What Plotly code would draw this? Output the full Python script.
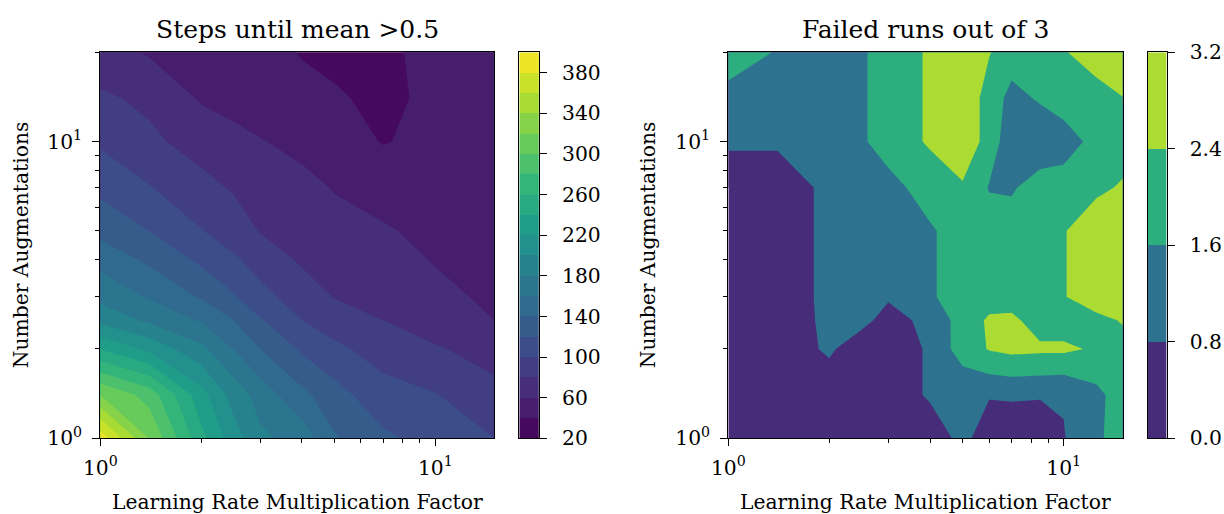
import math
import plotly.graph_objects as go
from plotly.colors import sample_colorscale

# ---------------- data ----------------
# Left panel: steps until mean > 0.5
lr_steps = [1, 1.4, 2, 2.5, 3, 4, 5, 7, 10, 15]
aug_steps = [1, 1.4, 2, 2.5, 3, 4, 5, 7, 10, 14, 20]
steps_until = [
    [392, 319, 246, 209, 184, 171, 142, 124, 112, 100],   # aug 1
    [320, 292, 228, 192, 172, 145, 128, 107, 101, 86],    # aug 1.4
    [239, 215, 185, 160, 140, 117, 104, 92, 82, 72],      # aug 2
    [194, 176, 158, 140, 122, 100, 91, 80, 70, 60],       # aug 2.5
    [174, 158, 138, 122, 106, 91, 79, 71, 64, 57],        # aug 3
    [153, 136, 116, 103, 92, 77, 71, 66, 59, 54],         # aug 4
    [134, 120, 101, 90, 79, 71, 66, 62, 55, 52],          # aug 5
    [115, 101, 86, 78, 72, 65, 59, 52, 48, 50],           # aug 7
    [97, 84, 72, 66, 61, 55, 49, 39, 45, 48],             # aug 10
    [83, 76, 58, 53, 50, 45, 42, 36, 44, 47],             # aug 14
    [68, 58, 52, 49, 46, 39, 36, 36, 46, 46],             # aug 20
]
steps_levels = list(range(20, 401, 20))
steps_ticks = list(range(20, 381, 40))

# Right panel: failed runs out of 3
lr_failed = [1, 1.4, 2, 2.5, 3, 4, 5, 6, 7, 8.5, 10, 12.5, 15]
aug_failed = [1, 1.4, 2, 2.5, 3, 4, 5, 7, 10, 14, 20]
failed_runs = [
    [0, 0, 0, 0, 0, 0, 1.2, 0, 0, 0, 0.76, 1.44, 2],                 # aug 1
    [0, 0, 0, 0, 0, 0.98, 1, 0.9, 0.95, 0.9, 0.85, 1.38, 2],         # aug 1.4
    [0, 0, 1.0, 0, 0, 0.98, 1.96, 2.45, 2.6, 2.55, 2.55, 2.3, 2],    # aug 2
    [0, 0, 1.1, 1.19, 0.3, 1.18, 1.85, 2.54, 2.59, 2, 2, 2.1, 2.48], # aug 2.5
    [0, 0, 1.14, 1, 0.95, 1.5, 2, 2, 2, 2, 2.34, 3, 3],              # aug 3
    [0, 0, 1.14, 1, 1, 1.5, 2, 2, 2, 2, 2.34, 3, 3],                 # aug 4
    [0, 0, 1.14, 1, 1, 1.5, 2, 2, 2, 2, 2.34, 3, 3],                 # aug 5
    [0, 0, 1.14, 1.2, 1.3, 2, 2.3, 1.55, 1.5, 2, 2, 2.2, 2.5],       # aug 7
    [1, 1, 1, 1.49, 2, 2.49, 3, 2.06, 1.08, 1, 1.2, 1.86, 2],        # aug 10
    [1.35, 1.2, 1, 1.49, 2, 2.49, 3, 2.06, 1.35, 1.69, 2, 1.9, 2.38],# aug 14
    [2, 1.55, 1, 1.49, 2, 2.49, 3, 2.44, 2, 2, 2.31, 3, 3],          # aug 20
]
failed_levels = [0.0, 0.8, 1.6, 2.4, 3.2]
failed_ticks = ["0.0", "0.8", "1.6", "2.4", "3.2"]

x_ticks = [1, 10]
x_ticktext = ["10<sup>0</sup>", "10<sup>1</sup>"]
minor_x = [2, 3, 4, 5, 6, 7, 8, 9]
minor_y = [2, 3, 4, 5, 6, 7, 8, 9, 20]

# ---------------- helpers ----------------
W, H = 1224, 514
FONT = "DejaVu Serif"


def band_colors(levels):
    lo, hi = levels[0], levels[-1]
    mids = [(a + b) / 2 for a, b in zip(levels[:-1], levels[1:])]
    return sample_colorscale("Viridis", [(m - lo) / (hi - lo) for m in mids])


def contour_scale(cols):
    # plotly samples band k at fraction (k+1)/nc, nc = number of levels
    nc = len(cols) + 1
    ext = [cols[0]] + cols + [cols[-1]]
    scale = []
    for j, c in enumerate(ext):
        lo = 0 if j == 0 else (j - 0.5) / nc
        hi = 1 if j == nc else (j + 0.5) / nc
        scale.append([lo, c])
        scale.append([hi, c])
    return scale


def bar_scale(levels, cols):
    lo, hi = levels[0], levels[-1]
    s = []
    for k, c in enumerate(cols):
        s.append([(levels[k] - lo) / (hi - lo), c])
        s.append([(levels[k + 1] - lo) / (hi - lo), c])
    return s


def px_x(p):
    return p / W


def px_y(p):
    return (H - p) / H


cols_l = band_colors(steps_levels)
cols_r = band_colors(failed_levels)

fig = go.Figure()

fig.add_trace(go.Contour(
    x=lr_steps, y=aug_steps, z=steps_until, xaxis="x", yaxis="y",
    autocontour=False,
    contours=dict(start=steps_levels[0], end=steps_levels[-1],
                  size=steps_levels[1] - steps_levels[0],
                  coloring="fill", showlines=False),
    line=dict(width=0, smoothing=0),
    colorscale=contour_scale(cols_l), showscale=False, hoverinfo="skip"))

fig.add_trace(go.Contour(
    x=lr_failed, y=aug_failed, z=failed_runs, xaxis="x2", yaxis="y2",
    autocontour=False,
    contours=dict(start=failed_levels[0], end=failed_levels[-1],
                  size=failed_levels[1] - failed_levels[0],
                  coloring="fill", showlines=False),
    line=dict(width=0, smoothing=0),
    colorscale=contour_scale(cols_r), showscale=False, hoverinfo="skip"))

# colour bars drawn from the level arrays
mids_l = [(a + b) / 2 for a, b in zip(steps_levels[:-1], steps_levels[1:])]
fig.add_trace(go.Heatmap(
    x=[0, 1], y=steps_levels, z=[[m] for m in mids_l], xaxis="x3", yaxis="y3",
    zmin=steps_levels[0], zmax=steps_levels[-1],
    colorscale=bar_scale(steps_levels, cols_l), showscale=False, hoverinfo="skip"))
mids_r = [(a + b) / 2 for a, b in zip(failed_levels[:-1], failed_levels[1:])]
fig.add_trace(go.Heatmap(
    x=[0, 1], y=failed_levels, z=[[m] for m in mids_r], xaxis="x4", yaxis="y4",
    zmin=failed_levels[0], zmax=failed_levels[-1],
    colorscale=bar_scale(failed_levels, cols_r), showscale=False, hoverinfo="skip"))

LINE = dict(showline=True, mirror=True, linecolor="black", linewidth=1.3,
            showgrid=False, zeroline=False, automargin=False)
TICKFONT = dict(family=FONT, size=20.3, color="black")

y_dom = [px_y(438.3), px_y(52.3)]

main_x = dict(type="log", ticks="outside", ticklen=7, tickwidth=1.3, tickcolor="black",
              tickmode="array", tickvals=x_ticks, ticktext=x_ticktext, tickfont=TICKFONT,
              ticklabelstandoff=4,
              minor=dict(tickmode="array", tickvals=minor_x, ticks="outside", ticklen=4,
                         tickwidth=1, tickcolor="black"),
              range=[0, math.log10(lr_steps[-1])], **LINE)
main_y = dict(type="log", ticks="outside", ticklen=7, tickwidth=1.3, tickcolor="black",
              tickmode="array", tickvals=x_ticks, ticktext=x_ticktext, tickfont=TICKFONT,
              ticklabelstandoff=6,
              minor=dict(tickmode="array", tickvals=minor_y, ticks="outside", ticklen=4,
                         tickwidth=1, tickcolor="black"),
              range=[0, math.log10(aug_steps[-1])], domain=y_dom, **LINE)

bar_x = dict(range=[0, 1], showticklabels=False, ticks="", fixedrange=True, **LINE)
bar_y = dict(side="right", ticks="outside", ticklen=7, tickwidth=1.3, tickcolor="black",
             tickfont=TICKFONT, ticklabelstandoff=11, domain=y_dom, **LINE)

fig.update_layout(
    width=W, height=H, margin=dict(l=0, r=0, t=0, b=0, autoexpand=False),
    paper_bgcolor="white", plot_bgcolor="white", showlegend=False,
    font=dict(family=FONT, color="black"),
    xaxis=dict(domain=[px_x(100.3), px_x(494.3)], anchor="y", **main_x),
    yaxis=dict(anchor="x", **main_y),
    xaxis2=dict(domain=[px_x(728.3), px_x(1122.7)], anchor="y2", **main_x),
    yaxis2=dict(anchor="x2", **main_y),
    xaxis3=dict(domain=[px_x(519.3), px_x(538.8)], anchor="y3", **bar_x),
    yaxis3=dict(anchor="x3", range=[steps_levels[0], steps_levels[-1]],
                tickmode="array", tickvals=steps_ticks, **bar_y),
    xaxis4=dict(domain=[px_x(1147.7), px_x(1166.5)], anchor="y4", **bar_x),
    yaxis4=dict(anchor="x4", range=[failed_levels[0], failed_levels[-1]],
                tickmode="array", tickvals=failed_levels, ticktext=failed_ticks, **bar_y),
)

ann_font = dict(family=FONT, size=20.3, color="black")
title_font = dict(family=FONT, size=25, color="black")
annotations = [
    dict(text="Steps until mean >0.5", x=px_x(297.3), y=px_y(29), font=title_font),
    dict(text="Failed runs out of 3", x=px_x(925.5), y=px_y(29), font=title_font),
    dict(text="Learning Rate Multiplication Factor", x=px_x(297.3), y=px_y(502), font=ann_font),
    dict(text="Learning Rate Multiplication Factor", x=px_x(925.5), y=px_y(502), font=ann_font),
    dict(text="Number Augmentations", x=px_x(21), y=px_y(245.3), textangle=-90, font=ann_font),
    dict(text="Number Augmentations", x=px_x(648), y=px_y(245.3), textangle=-90, font=ann_font),
]
for a in annotations:
    a.update(xref="paper", yref="paper", xanchor="center", yanchor="middle", showarrow=False)
fig.update_layout(annotations=annotations)

fig.write_html("out.html", config={"displayModeBar": False})
